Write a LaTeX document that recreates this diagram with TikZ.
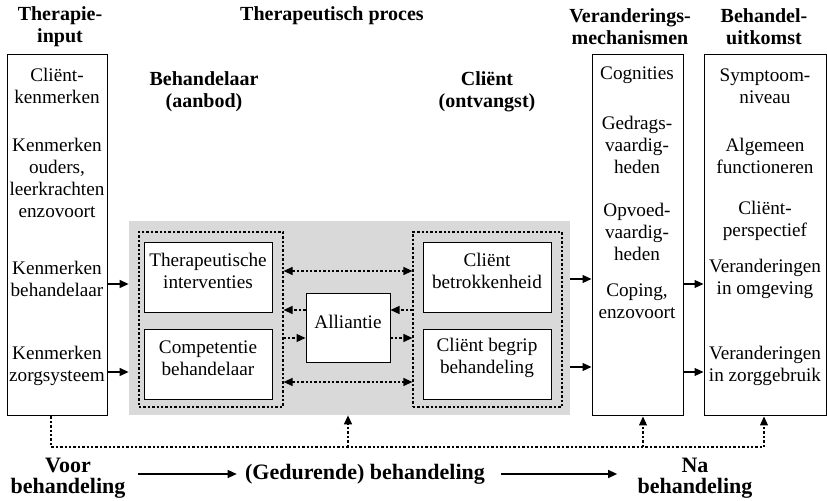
\documentclass[tikz,border=0pt]{standalone}
\usepackage{fontspec}
\setmainfont{Liberation Serif}
\usetikzlibrary{positioning, arrows.meta, fit}

\begin{document}
\begin{tikzpicture}[
        x=0.5pt, y=-0.5pt,
        >={Triangle[length=4.5pt,width=4pt]},
        font=\fontsize{9.6}{11}\selectfont,
        box/.style={draw, line width=0.5pt, inner sep=0pt, align=center},
        dotbox/.style={draw, inner sep=0pt, line width=0.6pt, dash pattern=on 1.2pt off 1pt},
        txt/.style={align=center, inner sep=0pt},
        head/.style={align=center, inner sep=0pt, font=\fontsize{10}{11}\selectfont\bfseries},
        foot/.style={align=center, inner sep=0pt, font=\fontsize{11}{10.5}\selectfont\bfseries},
        flow/.style={->, line width=0.6pt},
        dots/.style={line width=0.6pt, dash pattern=on 1.2pt off 1pt}
    ]
    \useasboundingbox (0,0) rectangle (827,501);

    % headers
    \node[head] (hinput) at (60,27) {Therapie-\\input};
    \node[head] (hproces) at (332,16) {Therapeutisch proces};
    \node[head] (hmech) at (630,27) {Veranderings-\\mechanismen};
    \node[head] (huitkomst) at (764,27) {Behandel-\\uitkomst};
    \node[head] (hbehandelaar) at (204,92) {Behandelaar\\(aanbod)};
    \node[head] (hclient) at (487,92) {Cliënt\\(ontvangst)};

    % columns
    \node[box, fit={(8,55) (107,416)}] (input) {};
    \node[box, fit={(592,55) (683,416)}] (mech) {};
    \node[box, fit={(704,55) (826,416)}] (uitkomst) {};

    \node[txt] (in1) at (57,86) {Cliënt-\\kenmerken};
    \node[txt] (in2) at (57,178) {Kenmerken\\ouders,\\leerkrachten\\enzovoort};
    \node[txt] (in3) at (57,279) {Kenmerken\\behandelaar};
    \node[txt] (in4) at (57,366) {Kenmerken\\zorgsysteem};

    \node[txt] (me1) at (637,75) {Cognities};
    \node[txt] (me2) at (637,145) {Gedrags-\\vaardig-\\heden};
    \node[txt] (me3) at (637,232) {Opvoed-\\vaardig-\\heden};
    \node[txt] (me4) at (637,301) {Coping,\\enzovoort};

    \node[txt] (ui1) at (765,86) {Symptoom-\\niveau};
    \node[txt] (ui2) at (765,156) {Algemeen\\functioneren};
    \node[txt] (ui3) at (765,221) {Cliënt-\\perspectief};
    \node[txt] (ui4) at (765,279) {Veranderingen\\in omgeving};
    \node[txt] (ui5) at (765,366) {Veranderingen\\in zorggebruik};

    % therapeutisch proces
    \node[fit={(129,221) (570,415)}, inner sep=0pt, fill=black!15] (proces) {};
    \node[dotbox, fit={(139,232) (283,407)}] (behandelaar) {};
    \node[dotbox, fit={(413,232) (562,407)}] (client) {};
    \node[box, fill=white, fit={(144,243) (272,313)}] (interventies) {Therapeutische\\interventies};
    \node[box, fill=white, fit={(144,330) (272,400)}] (competentie) {Competentie\\behandelaar};
    \node[box, fill=white, fit={(423,243) (551,313)}] (betrokkenheid) {Cliënt\\betrokkenheid};
    \node[box, fill=white, fit={(423,330) (551,400)}] (begrip) {Cliënt begrip\\behandeling};
    \node[box, fill=white, fit={(306,294) (390,363)}] (alliantie) {Alliantie};

    \draw[dots, <->] (behandelaar.east |- 0,271) -- (client.west |- 0,271);
    \draw[dots, <->] (behandelaar.east |- 0,382) -- (client.west |- 0,382);
    \draw[dots, ->] (alliantie.west |- 0,310) -- (behandelaar.east |- 0,310);
    \draw[dots, ->] (behandelaar.east |- 0,338) -- (alliantie.west |- 0,338);
    \draw[dots, ->] (client.west |- 0,310) -- (alliantie.east |- 0,310);
    \draw[dots, ->] (alliantie.east |- 0,338) -- (client.west |- 0,338);

    % flow between columns
    \draw[flow] (input.east |- 0,284) -- (proces.west |- 0,284);
    \draw[flow] (input.east |- 0,372) -- (proces.west |- 0,372);
    \draw[flow] (proces.east |- 0,279) -- (mech.west |- 0,279);
    \draw[flow] (proces.east |- 0,367) -- (mech.west |- 0,367);
    \draw[flow] (mech.east |- 0,284) -- (uitkomst.west |- 0,284);
    \draw[flow] (mech.east |- 0,372) -- (uitkomst.west |- 0,372);

    % tijdlijn
    \coordinate (tl) at (51,447);
    \coordinate (tp) at (348,447);
    \coordinate (tm) at (643,447);
    \coordinate (tr) at (764,447);
    \draw[dots] (input.south -| tl) -- (tl) -- (tr);
    \draw[dots, ->] (tp) -- (proces.south -| tp);
    \draw[dots, ->] (tm) -- (mech.south -| tm);
    \draw[dots, ->] (tr) -- (uitkomst.south -| tr);

    \node[foot] (voor) at (68,478) {Voor\\behandeling};
    \node[foot] (tijdens) at (365,474) {(Gedurende) behandeling};
    \node[foot] (na) at (695,478) {Na\\behandeling};
    \draw[flow, shorten <=6pt, shorten >=4pt] (voor.east |- tijdens) -- (tijdens);
    \draw[flow, shorten <=8pt, shorten >=10pt] (tijdens) -- (na.west |- tijdens);
\end{tikzpicture}
\end{document}
